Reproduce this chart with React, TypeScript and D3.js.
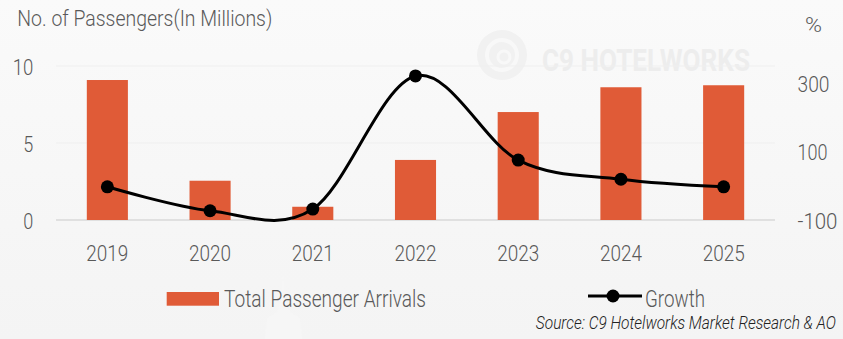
import React, { useLayoutEffect, useRef, useState } from "react";
import * as d3 from "d3";

const years = ["2019", "2020", "2021", "2022", "2023", "2024", "2025"];
const arrivals = [9.09, 2.55, 0.86, 3.9, 7.01, 8.62, 8.75];
const growth = [-3, -73, -68, 321, 75, 19, -3];
const leftTicks = [0, 5, 10];
const rightTicks = [-100, 100, 300];
const sourceText = "Source: C9 Hotelworks Market Research & AO";

const W = 843;
const H = 339;
const FONT = "'Liberation Sans Narrow', 'Arial Narrow', Roboto, sans-serif";
const TEXT = "#595959";
const BAR = "#E05B37";

export default function App() {
  const x = d3.scaleBand().domain(years).range([56, 775]).paddingInner(0.6).paddingOuter(0.3);
  const xc = (d: string) => (x(d) as number) + x.bandwidth() / 2;
  const yL = d3.scaleLinear().domain([0, 10]).range([220, 66]);
  const yR = d3.scaleLinear().domain([-100, 350]).range([220, 66]);
  const line = d3
    .line<number>()
    .x((_, i) => xc(years[i]))
    .y((d) => yR(d))
    .curve(d3.curveCardinal.tension(0));

  const srcRef = useRef<SVGTextElement>(null);
  const [sx, setSx] = useState(0.8);
  useLayoutEffect(() => {
    if (srcRef.current) {
      const w = srcRef.current.getComputedTextLength();
      if (w > 0) setSx(300 / w);
    }
  }, []);

  const T = (props: any) => (
    <text fontFamily={FONT} fontWeight={300} fill={TEXT} lengthAdjust="spacingAndGlyphs" {...props} />
  );
  const leftW: Record<number, number> = { 0: 10, 5: 10, 10: 20.6 };
  const rightW: Record<number, number> = { [-100]: 40, 100: 30, 300: 32 };

  return (
    <svg width={W} height={H} style={{ position: "absolute", left: 0, top: 0 }}>
      <defs>
        <linearGradient id="bg" x1="0" y1="0" x2="0" y2="1">
          <stop offset="0" stopColor="#fafafa" />
          <stop offset="1" stopColor="#f4f4f4" />
        </linearGradient>
      </defs>
      <rect x={0} y={0} width={W} height={H} fill="url(#bg)" />
      {/* watermarks */}
      <path d="M283,272 L285,300 L290,312 L300,318 L302,339 L265,339 L267,318 L277,312 L281,300 Z" fill="#f6f6f6" />
      <g>
        <circle cx={502} cy={55} r={25} fill="#f1f1f1" />
        <circle cx={502} cy={55} r={15} fill="none" stroke="#f8f8f8" strokeWidth={4} />
        <circle cx={504} cy={57} r={6} fill="none" stroke="#f8f8f8" strokeWidth={3} />
        <text x={750} y={71} textAnchor="end" fontFamily={FONT} fontWeight="bold" fontSize={31} fill="#ededed" textLength={208} lengthAdjust="spacingAndGlyphs">
          C9 HOTELWORKS
        </text>
      </g>
      {/* gridlines */}
      {leftTicks.map((t) => (
        <line
          key={t}
          x1={56}
          x2={775}
          y1={yL(t)}
          y2={yL(t)}
          stroke={t === 0 ? "#d9d9d9" : "#efefef"}
          strokeWidth={t === 0 ? 1.5 : 1}
        />
      ))}
      {/* bars */}
      {arrivals.map((v, i) => (
        <rect
          key={years[i]}
          x={x(years[i])}
          y={yL(v)}
          width={x.bandwidth()}
          height={yL(0) - yL(v)}
          fill={BAR}
        />
      ))}
      {/* line */}
      <path d={line(growth) || ""} fill="none" stroke="#000" strokeWidth={3} />
      {growth.map((v, i) => (
        <circle key={years[i]} cx={xc(years[i])} cy={yR(v)} r={6.5} fill="#000" />
      ))}
      {/* left ticks */}
      {leftTicks.map((t) => (
        <T key={t} x={33.3} y={yL(t) + 8.5} textAnchor="end" fontSize={22} textLength={leftW[t]}>
          {t}
        </T>
      ))}
      {/* right ticks */}
      {rightTicks.map((t) => (
        <T key={t} x={797.5 + rightW[t]} y={yR(t) + 8.5} textAnchor="end" fontSize={22} textLength={rightW[t]}>
          {t}
        </T>
      ))}
      {/* year labels */}
      {years.map((yv) => (
        <T key={yv} x={xc(yv)} y={261} textAnchor="middle" fontSize={22} textLength={42}>
          {yv}
        </T>
      ))}
      {/* titles */}
      <T x={17.3} y={26} fontSize={22} textLength={255}>
        No. of Passengers(In Millions)
      </T>
      <T x={822} y={31.5} textAnchor="end" fontSize={21} textLength={17}>
        %
      </T>
      {/* legend */}
      <rect x={166.7} y={292} width={52.3} height={13.7} fill={BAR} />
      <T x={224} y={306.5} fontSize={23} textLength={202}>
        Total Passenger Arrivals
      </T>
      <line x1={588} x2={642} y1={296} y2={296} stroke="#000" strokeWidth={3} />
      <circle cx={613} cy={296} r={6.5} fill="#000" />
      <T x={645} y={306.5} fontSize={23} textLength={60}>
        Growth
      </T>
      <g transform={`translate(836,329.3) scale(${sx},1)`}>
        <text ref={srcRef} x={0} y={0} textAnchor="end" fontFamily={FONT} fontStyle="italic" fontWeight={300} fontSize={17.5} fill="#222">
          {sourceText}
        </text>
      </g>
    </svg>
  );
}
